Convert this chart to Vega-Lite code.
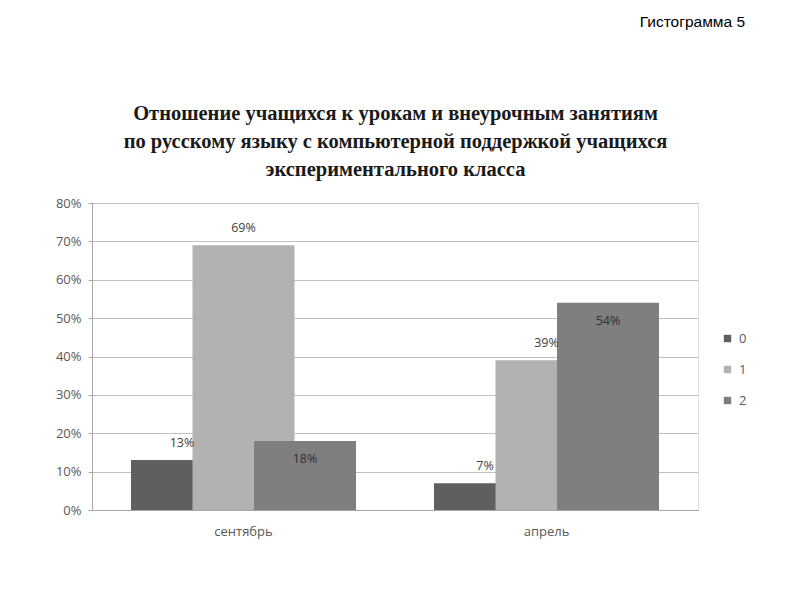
{
  "$schema": "https://vega.github.io/schema/vega-lite/v6.json",
  "width": 606,
  "height": 307,
  "autosize": "none",
  "padding": {"left": 92, "top": 203, "right": 102, "bottom": 90},
  "background": "white",
  "title": {
    "text": "Гистограмма 5",
    "font": "Liberation Sans",
    "fontSize": 15.5,
    "fontWeight": "normal",
    "color": "#000000",
    "anchor": "end",
    "frame": "group",
    "dx": 47,
    "offset": 73
  },
  "data": {
    "values": [
      {"month": "сентябрь", "series": "0", "value": 0.13},
      {"month": "сентябрь", "series": "1", "value": 0.69},
      {"month": "сентябрь", "series": "2", "value": 0.18},
      {"month": "апрель", "series": "0", "value": 0.07},
      {"month": "апрель", "series": "1", "value": 0.39},
      {"month": "апрель", "series": "2", "value": 0.54}
    ]
  },
  "encoding": {
    "xOffset": {"field": "series", "type": "nominal", "scale": {"paddingInner": 0, "paddingOuter": 0.963}},
    "y": {
      "field": "value",
      "type": "quantitative",
      "scale": {"domain": [0, 0.8]},
      "axis": {
        "title": null,
        "format": ".0%",
        "values": [0, 0.1, 0.2, 0.3, 0.4, 0.5, 0.6, 0.7, 0.8],
        "labelFont": "Open Sans",
        "labelFontSize": 13,
        "labelColor": "#595959",
        "labelPadding": 7,
        "tickSize": 4,
        "tickColor": "#a6a6a6",
        "domainColor": "#a6a6a6",
        "gridColor": "#c0c0c0",
        "grid": true
      }
    }
  },
  "resolve": {"axis": {"x": "independent"}},
  "layer": [
    {
      "mark": {"type": "bar", "width": 102},
      "encoding": {
        "x": {
          "field": "month",
          "type": "nominal",
          "sort": ["сентябрь", "апрель"],
          "scale": {"paddingInner": 0, "paddingOuter": 0},
          "axis": {
            "title": null,
            "labelAngle": 0,
            "labelFont": "Open Sans",
            "labelFontSize": 13,
            "labelColor": "#595959",
            "labelPadding": 15,
            "ticks": false,
            "domainColor": "#a6a6a6",
            "grid": false
          }
        },
        "color": {
          "field": "series",
          "type": "nominal",
          "scale": {"domain": ["0", "1", "2"], "range": ["#5f5f5f", "#b2b2b2", "#7f7f7f"]},
          "legend": {
            "title": null,
            "orient": "none",
            "legendX": 629,
            "legendY": 129,
            "padding": 0,
            "symbolType": "square",
            "symbolSize": 55,
            "symbolStrokeWidth": 0,
            "labelFont": "Open Sans",
            "labelFontSize": 13,
            "labelColor": "#595959",
            "rowPadding": 17,
            "labelOffset": 5
          }
        }
      }
    },
    {
      "transform": [{"filter": "datum.series != '2'"}],
      "mark": {"type": "text", "baseline": "middle", "dy": -17, "font": "Open Sans", "fontSize": 12.5, "color": "#404040"},
      "encoding": {
        "x": {
          "field": "month",
          "type": "nominal",
          "sort": ["сентябрь", "апрель"],
          "axis": {
            "orient": "top",
            "labels": false,
            "ticks": false,
            "domain": false,
            "grid": false,
            "title": [
              "Отношение учащихся к урокам и внеурочным занятиям",
              "по русскому языку с компьютерной поддержкой учащихся",
              "экспериментального класса"
            ],
            "titleFont": "Liberation Serif",
            "titleFontSize": 20.5,
            "titleFontWeight": "bold",
            "titleColor": "#1a1a1a",
            "titleLineHeight": 28,
            "titlePadding": 24
          }
        },
        "text": {"field": "value", "type": "quantitative", "format": ".0%"}
      }
    },
    {
      "transform": [{"filter": "datum.series == '2'"}],
      "mark": {"type": "text", "baseline": "middle", "dy": 18, "font": "Open Sans", "fontSize": 12.5, "color": "#303030"},
      "encoding": {
        "x": {"field": "month", "type": "nominal", "sort": ["сентябрь", "апрель"], "axis": null},
        "text": {"field": "value", "type": "quantitative", "format": ".0%"}
      }
    }
  ]
}
